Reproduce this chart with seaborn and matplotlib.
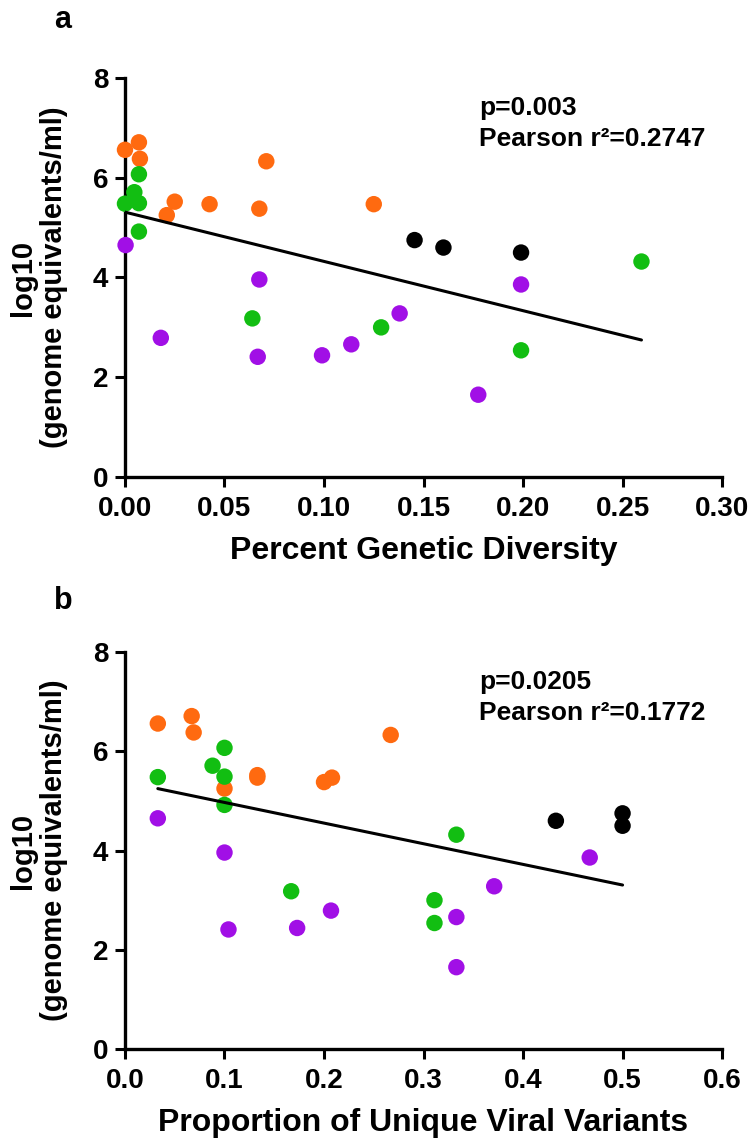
import numpy as np
import pandas as pd
import matplotlib
matplotlib.use("Agg")
import matplotlib.pyplot as plt
import seaborn as sns

# log10 viral load per sample, split by colour group
orange_load = [6.56, 6.71, 6.38, 5.52, 5.25, 5.47, 5.38, 6.33, 5.47]
green_load = [6.07, 5.71, 5.48, 5.49, 4.92, 3.18, 3.00, 2.54, 4.32]
purple_load = [4.65, 3.96, 2.79, 2.41, 2.44, 3.86, 3.28, 2.66, 1.65]
black_load = [4.75, 4.60, 4.50]

# panel a: percent genetic diversity
orange_div = [0.000, 0.007, 0.0075, 0.025, 0.021, 0.0425, 0.0675, 0.071, 0.125]
green_div = [0.007, 0.0047, 0.000, 0.007, 0.007, 0.064, 0.1287, 0.199, 0.2595]
purple_div = [0.0003, 0.0675, 0.018, 0.0667, 0.099, 0.199, 0.138, 0.1137, 0.1775]
black_div = [0.1455, 0.160, 0.199]

# panel b: proportion of unique viral variants
orange_uniq = [0.033, 0.067, 0.069, 0.133, 0.100, 0.133, 0.200, 0.267, 0.208]
green_uniq = [0.100, 0.088, 0.033, 0.100, 0.100, 0.167, 0.311, 0.311, 0.333]
purple_uniq = [0.033, 0.100, 0.207, 0.104, 0.173, 0.467, 0.371, 0.333, 0.333]
black_uniq = [0.500, 0.433, 0.500]

x_ticks_a = ["0.00", "0.05", "0.10", "0.15", "0.20", "0.25", "0.30"]
x_ticks_b = ["0.0", "0.1", "0.2", "0.3", "0.4", "0.5", "0.6"]
y_ticks = ["0", "2", "4", "6", "8"]

stats_a = "p=0.003\nPearson r\u00b2=0.2747"
stats_b = "p=0.0205\nPearson r\u00b2=0.1772"

palette = {"orange": "#FF6A10", "green": "#12BE12", "purple": "#A10FE6", "black": "#000000"}


def make_df(xs):
    rows = []
    for grp, x, y in zip(["orange", "green", "purple", "black"], xs,
                         [orange_load, green_load, purple_load, black_load]):
        for xi, yi in zip(x, y):
            rows.append({"x": xi, "load": yi, "group": grp})
    return pd.DataFrame(rows)


df_a = make_df([orange_div, green_div, purple_div, black_div])
df_b = make_df([orange_uniq, green_uniq, purple_uniq, black_uniq])

sns.set_style("ticks", {"axes.edgecolor": "black", "xtick.color": "black",
                        "ytick.color": "black", "text.color": "black",
                        "axes.labelcolor": "black"})
plt.rcParams["font.family"] = ["Liberation Sans", "DejaVu Sans"]
plt.rcParams["font.weight"] = "bold"

fig = plt.figure(figsize=(7.52, 11.45), dpi=100)
ax_a = fig.add_axes([0.1662, 0.5834, 0.794, 0.3485])
ax_b = fig.add_axes([0.1662, 0.0838, 0.794, 0.3467])


def draw(ax, df, xmax, xlabels, xlabel, stats):
    sns.scatterplot(data=df, x="x", y="load", hue="group", palette=palette,
                    s=140, linewidth=0, legend=False, ax=ax, clip_on=False, zorder=3)
    sns.regplot(data=df, x="x", y="load", scatter=False, ci=None, ax=ax,
                color="black", line_kws={"lw": 2.2, "zorder": 4})
    ax.set_xlim(0, xmax)
    ax.set_ylim(0, 8)
    ax.set_xticks(np.linspace(0, xmax, len(xlabels)))
    ax.set_xticklabels(xlabels)
    ax.set_yticks([0, 2, 4, 6, 8])
    ax.set_yticklabels(y_ticks)
    for side in ["top", "right"]:
        ax.spines[side].set_visible(False)
    for side in ["left", "bottom"]:
        ax.spines[side].set_linewidth(2.4)
    ax.tick_params(width=2.2, length=7, labelsize=20, pad=5)
    ax.tick_params(axis="x", pad=7)
    for lab in ax.get_xticklabels() + ax.get_yticklabels():
        lab.set_fontweight("bold")
    ax.set_xlabel(xlabel, fontsize=23, fontweight="bold", labelpad=10)
    ax.set_ylabel("log10\n(genome equivalents/ml)", fontsize=21,
                  fontweight="bold", linespacing=1.15, labelpad=18)
    ax.text(0.593, 0.955, stats, transform=ax.transAxes, ha="left", va="top",
            fontsize=19, fontweight="bold", linespacing=1.35)


draw(ax_a, df_a, 0.30, x_ticks_a, "Percent Genetic Diversity", stats_a)
draw(ax_b, df_b, 0.6, x_ticks_b, "Proportion of Unique Viral Variants", stats_b)

fig.text(0.072, 0.9755, "a", fontsize=22, fontweight="bold", va="baseline")
fig.text(0.072, 0.468, "b", fontsize=22, fontweight="bold", va="baseline")

fig.savefig("out.png", dpi=100)
